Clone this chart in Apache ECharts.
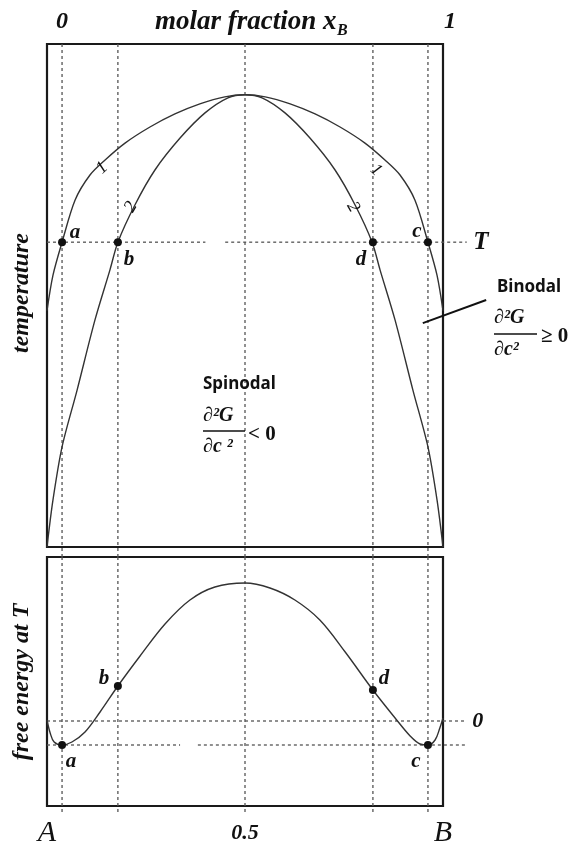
<!DOCTYPE html>
<html>
<head>
<meta charset="utf-8">
<script src="https://cdn.jsdelivr.net/npm/echarts@6/dist/echarts.min.js"></script>
<style>
  html, body { margin: 0; padding: 0; background: #fff; }
  #chart { width: 579px; height: 848px; }
</style>
</head>
<body>
<div id="chart"></div>
<script>
// phase diagram: binodal (1) and spinodal (2) curves, x = molar fraction, T in arbitrary units
var binodalX = [0, 0.015, 0.038, 0.071, 0.109, 0.146, 0.197, 0.260, 0.323, 0.386, 0.449, 0.5, 0.551, 0.614, 0.677, 0.740, 0.803, 0.854, 0.891, 0.929, 0.962, 0.985, 1];
var binodalT = [47, 54, 60.6, 69.0, 74.0, 76.9, 80.3, 83.5, 86.1, 88.1, 89.5, 89.9, 89.5, 88.1, 86.1, 83.5, 80.3, 76.9, 74.0, 69.0, 60.6, 54, 47];
var spinodalX = [0, 0.015, 0.038, 0.076, 0.121, 0.159, 0.179, 0.222, 0.273, 0.336, 0.399, 0.457, 0.5, 0.543, 0.601, 0.664, 0.727, 0.778, 0.821, 0.841, 0.879, 0.924, 0.962, 0.985, 1];
var spinodalT = [0, 9.3, 19.9, 31.2, 45.1, 55.1, 60.6, 68.0, 75.0, 81.3, 86.3, 89.3, 89.9, 89.3, 86.3, 81.3, 75.0, 68.0, 60.6, 55.1, 45.1, 31.2, 19.9, 9.3, 0];

// free energy at T
var energyX = [0, 0.008, 0.018, 0.038, 0.063, 0.096, 0.134, 0.179, 0.235, 0.298, 0.361, 0.424, 0.5, 0.563, 0.626, 0.689, 0.753, 0.823, 0.879, 0.917, 0.942, 0.962, 0.980, 0.992, 1];
var energyG = [0.1, -1.2, -2.1, -2.4, -2.1, -1.1, 0.9, 3.5, 6.5, 9.7, 12.1, 13.4, 13.8, 13.3, 12.1, 10.1, 6.9, 3.1, 0.3, -1.5, -2.3, -2.4, -1.9, -0.7, 0.3];

// marked points a, b, d, c
var pointNames = ['a', 'b', 'd', 'c'];
var pointX = [0.038, 0.179, 0.823, 0.962];
var tempLevel = 60.6;
var pointG = [-2.4, 3.5, 3.1, -2.4];
var guideX = [0.038, 0.179, 0.5, 0.823, 0.962];
var bottomTicks = [0, 0.5, 1];
var bottomTickLabels = ['A', '0.5', 'B'];

var serif = 'Liberation Serif';
var dash = { color: '#555', width: 1.3, type: [3, 3] };
var curveStyle = { color: '#333', width: 1.4 };
var OVER = 1.2; // x extent of the overlay grids (lines running past the right border)

function pairs(xs, ys) {
  return xs.map(function (x, i) { return [x, ys[i]]; });
}

function guide(grid, points, extra) {
  return Object.assign({
    type: 'line', xAxisIndex: grid, yAxisIndex: grid, data: points,
    symbol: 'none', clip: false, silent: true, animation: false,
    lineStyle: dash, z: 1
  }, extra || {});
}

var letterLabel = { fontFamily: serif, fontStyle: 'italic', fontWeight: 'bold', fontSize: 21, color: '#111' };

var series = [];

// vertical dashed guides through both panels
guideX.forEach(function (x) {
  series.push(guide(0, [[x, 100], [x, -2]]));
  series.push(guide(1, [[x, 16.4], [x, -9.1]]));
});

// horizontal guides (overlay grids 2 and 3 reach past the border)
series.push(guide(2, [[0, tempLevel], [0.40, tempLevel]]));
series.push(guide(2, [[0.45, tempLevel], [1.06, tempLevel]]));
series.push(guide(3, [[0, 0], [1.06, 0]]));
series.push(guide(3, [[0, pointG[0]], [0.336, pointG[0]]]));
series.push(guide(3, [[0.381, pointG[0]], [1.06, pointG[0]]]));

// end labels T and 0
var endFont = { fontFamily: serif, fontStyle: 'italic', fontWeight: 'bold', color: '#111' };
var invisible = { color: 'rgba(0,0,0,0)', opacity: 1 };
series.push({
  type: 'scatter', xAxisIndex: 2, yAxisIndex: 2, symbolSize: 1, itemStyle: invisible, silent: true,
  data: [{ value: [1.06, tempLevel], label: Object.assign({ show: true, position: 'right', distance: 6, formatter: 'T', fontSize: 25 }, endFont) }]
});
series.push({
  type: 'scatter', xAxisIndex: 3, yAxisIndex: 3, symbolSize: 1, itemStyle: invisible, silent: true,
  data: [{ value: [1.06, 0], label: Object.assign({ show: true, position: 'right', distance: 5, formatter: '0', fontSize: 22 }, endFont) }]
});

// curves
series.push({ type: 'line', name: 'binodal', xAxisIndex: 0, yAxisIndex: 0, data: pairs(binodalX, binodalT), smooth: 0.3, symbol: 'none', lineStyle: curveStyle, z: 3 });
series.push({ type: 'line', name: 'spinodal', xAxisIndex: 0, yAxisIndex: 0, data: pairs(spinodalX, spinodalT), smooth: 0.3, symbol: 'none', lineStyle: curveStyle, z: 3 });
series.push({ type: 'line', name: 'free energy', xAxisIndex: 1, yAxisIndex: 1, data: pairs(energyX, energyG), smooth: 0.35, symbol: 'none', lineStyle: curveStyle, z: 3 });

// pointer to the binodal note
series.push(guide(2, [[0.949, 44.5], [1.109, 49.1]], { lineStyle: { color: '#111', width: 2 }, z: 4 }));

// points with letters
var topOffsets = [[13, -10], [11, 17], [-12, 17], [-11, -11]];
var bottomOffsets = [[9, 17], [-14, -7], [11, -11], [-12, 17]];
series.push({
  type: 'scatter', xAxisIndex: 0, yAxisIndex: 0, symbolSize: 8, itemStyle: { color: '#111', opacity: 1 }, z: 5,
  data: pointNames.map(function (n, i) {
    return { name: n, value: [pointX[i], tempLevel], label: Object.assign({ show: true, position: 'inside', formatter: n, offset: topOffsets[i] }, letterLabel) };
  })
});
series.push({
  type: 'scatter', xAxisIndex: 1, yAxisIndex: 1, symbolSize: 8, itemStyle: { color: '#111', opacity: 1 }, z: 5,
  data: pointNames.map(function (n, i) {
    return { name: n, value: [pointX[i], pointG[i]], label: Object.assign({ show: true, position: 'inside', formatter: n, offset: bottomOffsets[i] }, letterLabel) };
  })
});

function txt(x, y, text, font, rot, extra) {
  return {
    type: 'text', x: x, y: y, rotation: rot || 0, silent: true, z: 10,
    style: Object.assign({ text: text, font: font, fill: '#111', align: 'center', verticalAlign: 'middle' }, extra || {})
  };
}

var biFont = 'italic bold 24px "Liberation Serif"';
var noteFont = 'bold 17px "Noto Sans"';
var mathFont = 'italic bold 20px "Liberation Serif"';
var relFont = 'bold 21px "Liberation Serif"';
var numFont = 'italic 18px "Liberation Serif"';

var graphics = [
  txt(62, 22, '0', biFont),
  txt(450, 22, '1', biFont),
  txt(155, 22, 'molar fraction x', 'italic bold 27px "Liberation Serif"', 0, { align: 'left' }),
  txt(337, 31, 'B', 'italic bold 16px "Liberation Serif"', 0, { align: 'left' }),
  txt(22, 293, 'temperature', biFont, Math.PI / 2),
  txt(22, 682, 'free energy at T', biFont, Math.PI / 2),
  // curve numbers
  txt(102, 168, '1', numFont, 0.75),
  txt(131, 207, '2', numFont, 1.05),
  txt(353, 207, '2', numFont, -1.05),
  txt(376, 170, '1', numFont, -0.75),
  // Binodal note
  txt(497, 287, 'Binodal', noteFont, 0, { align: 'left' }),
  txt(494, 318, '∂²G', mathFont, 0, { align: 'left' }),
  { type: 'line', silent: true, z: 10, shape: { x1: 494, y1: 334, x2: 537, y2: 334 }, style: { stroke: '#111', lineWidth: 1.5 } },
  txt(494, 350, '∂c²', mathFont, 0, { align: 'left' }),
  txt(541, 337, '≥ 0', relFont, 0, { align: 'left' }),
  // Spinodal note
  txt(203, 384, 'Spinodal', noteFont, 0, { align: 'left' }),
  txt(203, 416, '∂²G', mathFont, 0, { align: 'left' }),
  { type: 'line', silent: true, z: 10, shape: { x1: 203, y1: 431, x2: 245, y2: 431 }, style: { stroke: '#111', lineWidth: 1.5 } },
  txt(203, 447, '∂c ²', mathFont, 0, { align: 'left' }),
  txt(248, 435, '< 0', relFont, 0, { align: 'left' })
];

var chart = echarts.init(document.getElementById('chart'), null, { renderer: 'canvas' });
chart.setOption({
  backgroundColor: '#fff',
  animation: false,
  grid: [
    { left: 47, top: 44, width: 396, height: 503, show: true, borderColor: '#1a1a1a', borderWidth: 2.2, backgroundColor: 'transparent' },
    { left: 47, top: 557, width: 396, height: 249, show: true, borderColor: '#1a1a1a', borderWidth: 2.2, backgroundColor: 'transparent' },
    { left: 47, top: 44, width: 396 * OVER, height: 503, show: false },
    { left: 47, top: 557, width: 396 * OVER, height: 249, show: false }
  ],
  xAxis: [
    { type: 'value', gridIndex: 0, min: 0, max: 1, show: false },
    {
      type: 'value', gridIndex: 1, min: 0, max: 1, interval: 0.5,
      axisLine: { show: false }, axisTick: { show: false }, splitLine: { show: false },
      axisLabel: {
        margin: 12,
        formatter: function (v) {
          var i = bottomTicks.indexOf(v);
          if (i < 0) return '';
          return i === 1 ? '{m|' + bottomTickLabels[i] + '}' : '{big|' + bottomTickLabels[i] + '}';
        },
        rich: {
          big: { fontFamily: serif, fontStyle: 'italic', fontSize: 30, color: '#111' },
          m: { fontFamily: serif, fontStyle: 'italic', fontWeight: 'bold', fontSize: 22, color: '#111', padding: [4, 0, 0, 0] }
        }
      }
    },
    { type: 'value', gridIndex: 2, min: 0, max: OVER, show: false },
    { type: 'value', gridIndex: 3, min: 0, max: OVER, show: false }
  ],
  yAxis: [
    { type: 'value', gridIndex: 0, min: 0, max: 100, show: false },
    { type: 'value', gridIndex: 1, min: -8.5, max: 16.4, show: false },
    { type: 'value', gridIndex: 2, min: 0, max: 100, show: false },
    { type: 'value', gridIndex: 3, min: -8.5, max: 16.4, show: false }
  ],
  graphic: graphics,
  series: series
});
</script>
</body>
</html>
